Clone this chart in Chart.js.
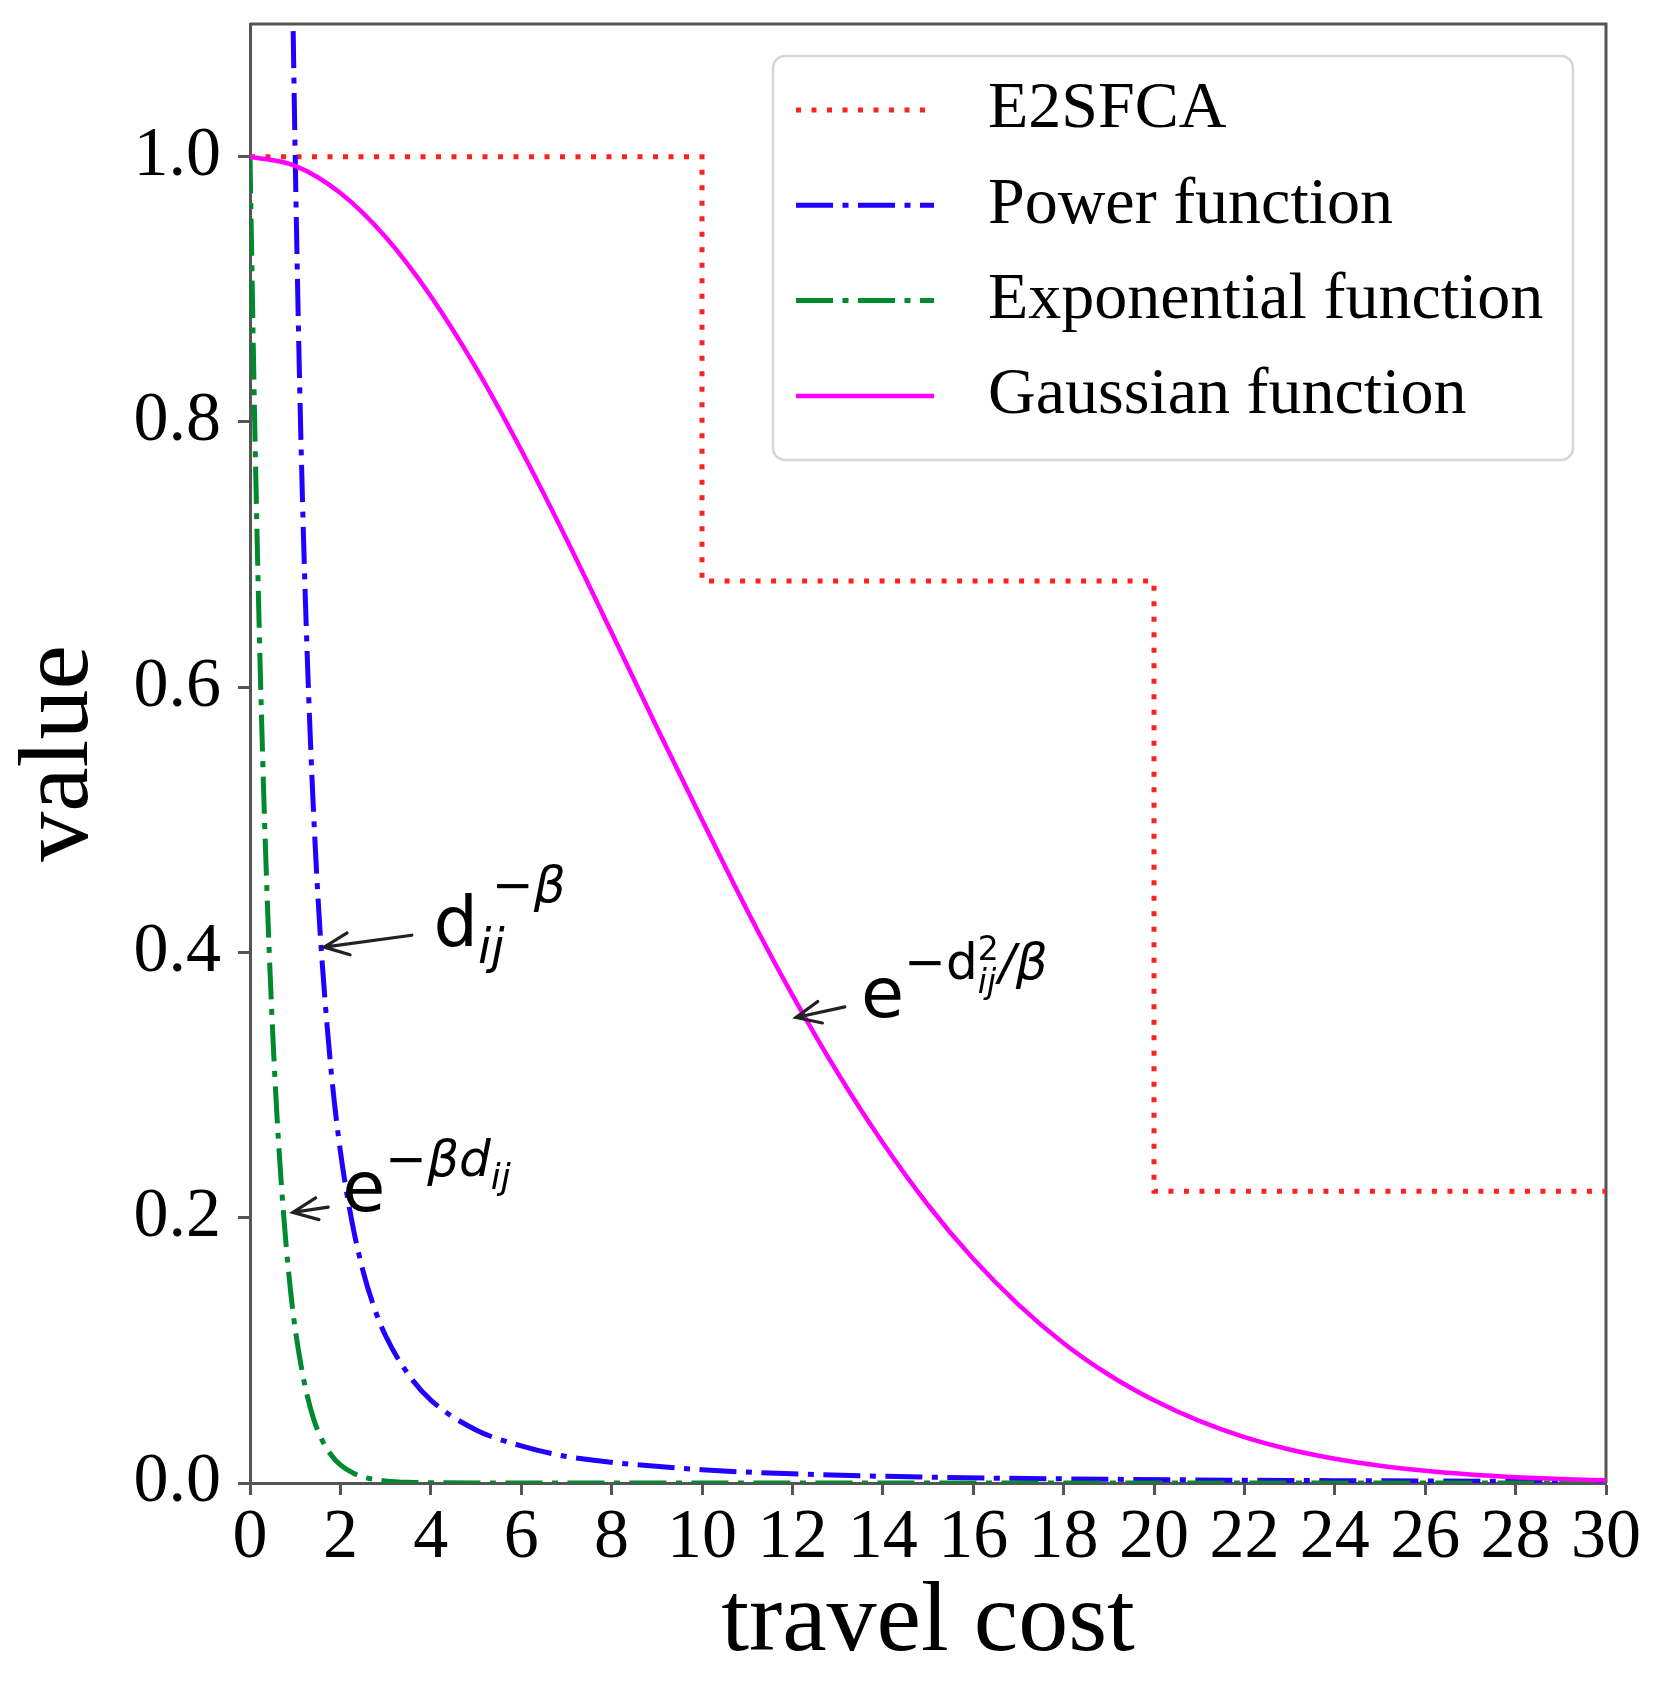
<!DOCTYPE html>
<html>
<head>
<meta charset="utf-8">
<script src="https://cdn.jsdelivr.net/npm/chart.js@4.4.1/dist/chart.umd.min.js"></script>
<style>
    html, body { margin: 0; padding: 0; background: #fff; }
    canvas { display: block; }
</style>
</head>
<body>
<canvas id="decayChart" width="1653" height="1687"></canvas>
<script>
// values
const e2sfcaX = [0, 10, 20, 30];
const e2sfcaY = [1.0, 0.68, 0.22, 0.22];

const powerX = [0.9, 0.95, 1.0, 1.1, 1.2, 1.3, 1.4, 1.5, 1.6, 1.8, 2.0, 2.25, 2.5, 2.75, 3.0, 3.5, 4.0, 5.0, 6.0, 7.0, 8.0, 10, 12, 15, 18, 22, 26, 30];
const powerY = [1.235, 1.108, 1.0, 0.826, 0.694, 0.592, 0.510, 0.444, 0.391, 0.309, 0.250, 0.198, 0.160, 0.132, 0.111, 0.082, 0.0625, 0.040, 0.028, 0.020, 0.0156, 0.010, 0.0069, 0.0044, 0.0031, 0.0021, 0.0015, 0.0011];

const expX = [0, 0.1, 0.2, 0.3, 0.4, 0.5, 0.6, 0.7, 0.8, 0.9, 1.0, 1.2, 1.4, 1.6, 1.8, 2.0, 2.3, 2.6, 3.0, 3.5, 4.0, 6, 10, 15, 20, 25, 30];
const expY = [1.0, 0.807, 0.650, 0.524, 0.423, 0.341, 0.275, 0.222, 0.179, 0.144, 0.116, 0.076, 0.049, 0.032, 0.021, 0.0136, 0.0071, 0.0037, 0.0016, 0.0005, 0.0002, 0, 0, 0, 0, 0, 0];

const gaussX = [0, 1, 2, 3, 4, 5, 6, 7, 8, 9, 10, 11, 12, 13, 14, 15, 16, 17, 18, 19, 20, 21, 22, 23, 24, 25, 26, 27, 28, 29, 30];
const gaussY = [1.0, 0.9931, 0.9726, 0.9394, 0.8948, 0.8407, 0.7788, 0.7117, 0.6412, 0.5698, 0.5000, 0.4317, 0.3679, 0.3093, 0.2565, 0.2096, 0.1690, 0.1345, 0.1054, 0.0816, 0.0623, 0.0468, 0.0346, 0.0253, 0.0183, 0.0130, 0.0092, 0.0064, 0.0044, 0.0030, 0.0020];

const seriesNames = ["E2SFCA", "Power function", "Exponential function", "Gaussian function"];
const xTickValues = [0, 2, 4, 6, 8, 10, 12, 14, 16, 18, 20, 22, 24, 26, 28, 30];
const yTickValues = [0.0, 0.2, 0.4, 0.6, 0.8, 1.0];

const serif = '"Liberation Serif", "Times New Roman", serif';
const mathFont = '"DejaVu Sans", sans-serif';
const spine = "#555555";

const toPoints = (xs, ys) => xs.map((x, i) => ({ x: x, y: ys[i] }));

// formula labels, anchored in data units
const notes = [
    {
        tip: [1.64, 0.404], tail: [3.58, 0.413], at: [4.06, 0.405],
        runs: [
            { text: "d", size: 70 },
            { text: "ij", size: 48, dy: 17, italic: true, hold: true },
            { text: "\u2212\u03b2", size: 50, dy: -44, dx: 14, italic: true },
        ],
    },
    {
        tip: [0.95, 0.204], tail: [1.73, 0.208], at: [2.04, 0.205],
        runs: [
            { text: "e", size: 70 },
            { text: "\u2212\u03b2d", size: 50, dy: -35, italic: true },
            { text: "ij", size: 36, dy: -22, italic: true },
        ],
    },
    {
        tip: [12.08, 0.351], tail: [13.16, 0.359], at: [13.52, 0.351],
        runs: [
            { text: "e", size: 70 },
            { text: "\u2212d", size: 50, dy: -38 },
            { text: "2", size: 33, dy: -57, hold: true },
            { text: "ij", size: 33, dy: -24, italic: true },
            { text: "/\u03b2", size: 50, dy: -38, italic: true },
        ],
    },
];

function drawMath(ctx, x, y, runs) {
    let cx = x, held = 0;
    runs.forEach((r) => {
        const dx = r.dx || 0;
        ctx.font = (r.italic ? "italic " : "") + r.size + "px " + mathFont;
        ctx.fillText(r.text, cx + dx, y + (r.dy || 0));
        const w = ctx.measureText(r.text).width + dx;
        if (r.hold) {
            held = Math.max(held, w);
        } else {
            cx += Math.max(w, held);
            held = 0;
        }
    });
}

function drawArrow(ctx, x0, y0, x1, y1) {
    const a = Math.atan2(y1 - y0, x1 - x0);
    const hl = 27, hw = 0.42;
    ctx.beginPath();
    ctx.moveTo(x0, y0);
    ctx.lineTo(x1, y1);
    ctx.moveTo(x1 - hl * Math.cos(a - hw), y1 - hl * Math.sin(a - hw));
    ctx.lineTo(x1, y1);
    ctx.lineTo(x1 - hl * Math.cos(a + hw), y1 - hl * Math.sin(a + hw));
    ctx.stroke();
}

const framePlugin = {
    id: "frame",
    beforeDatasetsDraw(chart) {
        const { ctx, chartArea: a } = chart;
        ctx.save();
        ctx.strokeStyle = spine;
        ctx.lineWidth = 3;
        ctx.beginPath();
        ctx.moveTo(a.left, a.top);
        ctx.lineTo(a.right, a.top);
        ctx.lineTo(a.right, a.bottom);
        ctx.stroke();
        ctx.restore();
    },
};

const notesPlugin = {
    id: "notes",
    afterDatasetsDraw(chart) {
        const { ctx } = chart;
        const xs = chart.scales.x, ys = chart.scales.y;
        ctx.save();
        ctx.strokeStyle = "#222";
        ctx.lineWidth = 3.2;
        ctx.lineCap = "round";
        ctx.lineJoin = "miter";
        ctx.fillStyle = "#000";
        ctx.textBaseline = "alphabetic";
        notes.forEach((n) => {
            drawArrow(ctx,
                xs.getPixelForValue(n.tail[0]), ys.getPixelForValue(n.tail[1]),
                xs.getPixelForValue(n.tip[0]), ys.getPixelForValue(n.tip[1]));
            drawMath(ctx, xs.getPixelForValue(n.at[0]), ys.getPixelForValue(n.at[1]), n.runs);
        });
        ctx.restore();
    },
};

const legendPlugin = {
    id: "legendBox",
    afterDraw(chart) {
        const { ctx, chartArea: a } = chart;
        const bx = a.right - 833, by = a.top + 32, bw = 800, bh = 404;
        ctx.save();
        ctx.fillStyle = "rgba(255,255,255,0.9)";
        ctx.strokeStyle = "#d6d6d6";
        ctx.lineWidth = 2.5;
        ctx.beginPath();
        ctx.roundRect(bx, by, bw, bh, 12);
        ctx.fill();
        ctx.stroke();
        chart.data.datasets.forEach((ds, i) => {
            const cy = by + 54 + i * 95.3;
            ctx.strokeStyle = ds.borderColor;
            ctx.lineWidth = ds.borderWidth;
            ctx.setLineDash(ds.borderDash || []);
            ctx.beginPath();
            ctx.moveTo(bx + 23, cy);
            ctx.lineTo(bx + 161, cy);
            ctx.stroke();
            ctx.setLineDash([]);
            ctx.fillStyle = "#000";
            ctx.font = "66px " + serif;
            ctx.textBaseline = "middle";
            ctx.fillText(ds.label, bx + 215, cy);
        });
        ctx.restore();
    },
};

const ctx = document.getElementById("decayChart").getContext("2d");

new Chart(ctx, {
    type: "line",
    data: {
        datasets: [
            {
                label: seriesNames[0],
                data: toPoints(e2sfcaX, e2sfcaY),
                borderColor: "#ff2020",
                borderWidth: 5,
                borderDash: [5, 10.5],
                stepped: "before",
                order: 3,
            },
            {
                label: seriesNames[1],
                data: toPoints(powerX, powerY),
                borderColor: "#2000ff",
                borderWidth: 5,
                borderDash: [37, 9.5, 6, 9.5],
                cubicInterpolationMode: "monotone",
                order: 2,
            },
            {
                label: seriesNames[2],
                data: toPoints(expX, expY),
                borderColor: "#008a2e",
                borderWidth: 5,
                borderDash: [37, 9.5, 6, 9.5],
                cubicInterpolationMode: "monotone",
                order: 1,
            },
            {
                label: seriesNames[3],
                data: toPoints(gaussX, gaussY),
                borderColor: "#ff00ff",
                borderWidth: 4.5,
                cubicInterpolationMode: "monotone",
                order: 0,
            },
        ],
    },
    options: {
        responsive: false,
        devicePixelRatio: 1,
        animation: false,
        elements: {
            point: { radius: 0, hoverRadius: 0 },
            line: { fill: false, tension: 0 },
        },
        layout: {
            padding: { left: 0, top: 24, right: 47, bottom: 0 },
        },
        scales: {
            x: {
                type: "linear",
                min: 0,
                max: 30,
                afterBuildTicks: (scale) => {
                    scale.ticks = xTickValues.map((v) => ({ value: v }));
                },
                afterFit: (scale) => {
                    scale.height = 204;
                    scale.paddingLeft = 0;
                    scale.paddingRight = 0;
                },
                ticks: {
                    autoSkip: false,
                    maxRotation: 0,
                    padding: 2,
                    color: "#000",
                    font: { family: serif, size: 70, lineHeight: 1.2 },
                    callback: (v) => String(v),
                },
                grid: {
                    drawOnChartArea: false,
                    drawTicks: true,
                    tickLength: 12,
                    tickWidth: 3,
                    tickColor: spine,
                },
                border: { color: spine, width: 3 },
                title: {
                    display: true,
                    text: "travel cost",
                    color: "#000",
                    font: { family: serif, size: 100, lineHeight: 1.2 },
                    padding: { top: 0, bottom: 3 },
                },
            },
            y: {
                type: "linear",
                min: 0,
                max: 1.1,
                afterBuildTicks: (scale) => {
                    scale.ticks = yTickValues.map((v) => ({ value: v }));
                },
                afterFit: (scale) => {
                    scale.width = 250;
                    scale.paddingTop = 0;
                    scale.paddingBottom = 0;
                },
                ticks: {
                    padding: 17,
                    color: "#000",
                    font: { family: serif, size: 70, lineHeight: 1.2 },
                    callback: (v) => Number(v).toFixed(1),
                },
                grid: {
                    drawOnChartArea: false,
                    drawTicks: true,
                    tickLength: 12,
                    tickWidth: 3,
                    tickColor: spine,
                },
                border: { color: spine, width: 3 },
                title: {
                    display: true,
                    text: "value",
                    color: "#000",
                    font: { family: serif, size: 100, lineHeight: 1.2 },
                    padding: { top: 1, bottom: 0 },
                },
            },
        },
        plugins: {
            legend: { display: false },
            tooltip: { enabled: false },
        },
    },
    plugins: [framePlugin, notesPlugin, legendPlugin],
});
</script>
</body>
</html>
